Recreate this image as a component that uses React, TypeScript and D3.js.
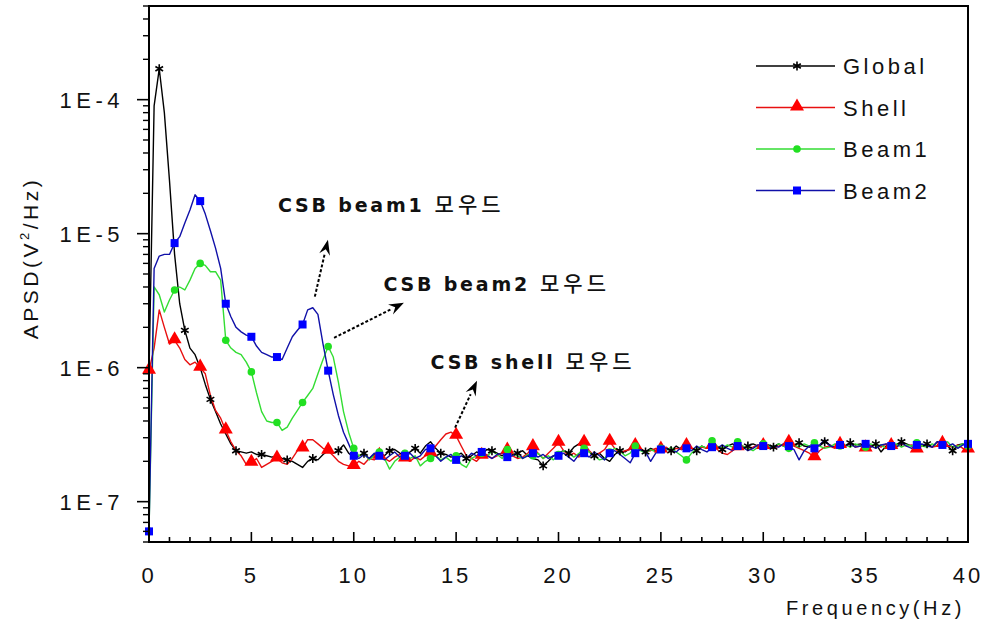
import React from "react";
import * as d3 from "d3";

// ---------- data (APSD values in units of 1E-7 V^2/Hz, sampled every 0.25 Hz) ----------
const STEP_HZ = 0.25;
const UNIT = 1e-7;

const GLOBAL = [
  9, 900, 1700, 800, 250, 70, 30, 19, 14, 12.5, 10, 7.5, 5.8, 4.7, 3.8, 3.2, 2.7, 2.4, 2.35, 2.3,
  2.35, 2.25, 2.25, 2.2, 2.15, 2.2, 2.1, 2.05, 2.0, 1.9, 1.8, 2.0, 2.1, 2.05, 2.25, 2.4, 2.3, 2.4, 2.65, 2.3,
  2.15,
  2.2, 2.3, 2.1, 2.25, 2.35, 2.2, 2.4, 2.45, 2.3, 2.2, 2.35, 2.5, 2.3, 2.6, 2.8, 2.5, 2.3, 2.25, 2.15, 2.2,
  2.3, 2.1, 2.2, 2.35, 2.25, 2.45, 2.4, 2.3, 2.2, 2.35, 2.25, 2.3, 2.4, 2.2, 2.1, 2.05, 1.85, 2.0, 2.2, 2.3,
  2.4, 2.3, 2.55, 2.7, 2.5, 2.35, 2.2, 2.3, 2.1, 2.0, 2.25, 2.4, 2.35, 2.5, 2.3, 2.45, 2.35, 2.5, 2.4, 2.55,
  2.5, 2.4, 2.6, 2.45, 2.55, 2.5, 2.4, 2.6, 2.5, 2.65, 2.55, 2.45, 2.6, 2.7, 2.55, 2.5, 2.6, 2.7, 2.6, 2.55,
  2.65, 2.55, 2.7, 2.6, 2.5, 2.65, 2.75, 2.6, 2.55, 2.7, 2.6, 2.8, 2.65, 2.55, 2.7, 2.6, 2.75, 2.65, 2.7, 2.6,
  2.55, 2.7, 2.35, 2.6, 2.75, 2.65, 2.8, 2.7, 2.6, 2.75, 2.65, 2.7, 2.55, 2.8, 2.7, 2.6, 2.4, 2.65, 2.7, 2.6,
];

const SHELL = [
  9.5, 14, 27, 20, 15, 16, 14, 11.5, 10.5, 11, 10, 9, 6.2, 4.8, 4.2, 3.4, 2.8, 2.4, 2.2, 1.9,
  1.95, 2.1, 1.8, 1.9, 2.0, 2.1, 1.95, 1.9, 2.1, 2.4, 2.5, 2.9, 2.9, 2.7, 2.5, 2.4, 2.2, 2.0, 1.9, 1.85,
  1.85,
  2.0, 1.9, 2.1, 2.05, 2.2, 2.1, 2.0, 2.15, 2.25, 2.1, 2.0, 2.15, 2.05, 2.2, 2.3, 2.6, 2.9, 3.2, 3.3, 3.1,
  2.6, 2.2, 2.1, 2.0, 2.2, 2.25, 2.1, 2.2, 2.3, 2.4, 2.2, 2.1, 2.15, 2.3, 2.55, 2.3, 2.1, 2.3, 2.5, 2.75,
  2.4, 2.2, 2.3, 2.15, 2.75, 2.4, 2.2, 2.3, 2.45, 2.8, 2.5, 2.3, 2.4, 2.45, 2.6, 2.5, 2.35, 2.4, 2.5, 2.45,
  2.55, 2.4, 2.5, 2.45, 2.6, 2.5, 2.4, 2.55, 2.5, 2.6, 2.45, 2.3, 2.25, 2.4, 2.55, 2.6, 2.5, 2.55, 2.65, 2.6,
  2.55, 2.5, 2.6, 2.7, 2.75, 2.6, 2.5, 2.4, 2.3, 2.15, 2.4, 2.55, 2.6, 2.5, 2.65, 2.6, 2.7, 2.55, 2.6, 2.5,
  2.6, 2.65, 2.55, 2.7, 2.6, 2.55, 2.7, 2.6, 2.65, 2.45, 2.6, 2.7, 2.55, 2.6, 2.7, 2.6, 2.55, 2.65, 2.5, 2.45,
];

const BEAM1 = [
  0.6, 40, 35, 26, 32, 38, 40, 38, 45, 55, 60, 58, 52, 52, 45, 16, 14, 13, 12.5, 11,
  9.3, 6.5, 4.7, 4.0, 3.9, 3.9, 3.4, 3.6, 4.2, 4.8, 5.5, 6.2, 7.0, 9.0, 11.5, 14.4, 12, 7.8, 4.7, 3.3,
  2.5,
  2.2, 2.3, 2.05, 2.2, 2.35, 2.1, 1.75, 2.0, 2.15, 2.3, 2.1, 2.2, 1.85, 2.0, 2.1, 2.2, 2.05, 2.15, 2.0, 2.2,
  1.9, 1.8, 2.1, 2.2, 2.3, 2.15, 2.4, 2.25, 2.1, 2.45, 2.3, 2.2, 2.1, 2.25, 2.2, 2.3, 2.1, 2.2, 2.05, 2.25,
  2.4, 2.3, 2.15, 2.3, 2.5, 2.35, 2.2, 2.05, 2.1, 2.35, 2.5, 2.4, 2.2, 2.3, 2.6, 2.4, 2.3, 2.45, 2.35, 2.5,
  2.4, 2.55, 2.35, 2.2, 2.05, 2.3, 2.5, 2.6, 2.5, 2.85, 2.6, 2.5, 2.65, 2.55, 2.8, 2.6, 2.5, 2.4, 2.55, 2.7,
  2.6, 2.55, 2.7, 2.6, 2.5, 2.65, 2.55, 2.7, 2.6, 2.75, 2.6, 2.5, 2.55, 2.7, 2.6, 2.65, 2.55, 2.7, 2.6, 2.55,
  2.7, 2.6, 2.65, 2.5, 2.6, 2.7, 2.55, 2.65, 2.6, 2.75, 2.6, 2.55, 2.7, 2.6, 2.65, 2.8, 2.55, 2.6, 2.7, 2.6,
];

const BEAM2 = [
  0.6, 55, 68, 70, 70, 85, 95, 120, 150, 195, 175, 140, 105, 78, 55, 30, 24, 20, 18.5, 17.5,
  17, 14.5, 13, 12.5, 12, 12, 11.5, 14, 17, 19, 21, 27, 28, 25, 15, 9.5, 6.3, 4.4, 3.3, 2.7,
  2.2,
  2.1, 2.25, 2.1, 2.3, 2.2, 2.05, 2.2, 2.35, 2.15, 2.2, 2.3, 2.1, 2.2, 2.45, 2.5, 2.2, 2.0, 2.15, 2.25, 2.05,
  2.2, 2.1, 2.3, 2.2, 2.35, 2.2, 2.1, 2.25, 2.3, 2.15, 2.2, 2.35, 2.1, 2.2, 2.3, 2.15, 2.25, 2.1, 2.2, 2.2,
  2.3, 2.15, 2.0, 2.25, 2.3, 2.15, 2.35, 2.2, 2.05, 2.3, 2.4, 2.25, 2.1, 1.95, 2.3, 2.45, 2.35, 2.0, 2.3, 2.45,
  2.5, 2.4, 2.35, 2.55, 2.5, 2.4, 2.6, 2.45, 2.35, 2.55, 2.5, 2.65, 2.5, 2.4, 2.6, 2.55, 2.4, 2.5, 2.65, 2.6,
  2.5, 2.6, 2.55, 2.7, 2.6, 2.45, 2.05, 2.4, 2.6, 2.5, 2.65, 2.9, 2.6, 2.55, 2.65, 2.6, 2.7, 2.55, 2.6, 2.7,
  2.6, 2.5, 2.65, 2.7, 2.6, 2.55, 2.75, 2.6, 2.5, 2.65, 2.7, 2.6, 2.55, 2.8, 2.65, 2.6, 2.7, 2.5, 2.65, 2.7,
];

const SERIES_NAMES = ["Global", "Shell", "Beam1", "Beam2"];
const SERIES_VALUES = [GLOBAL, SHELL, BEAM1, BEAM2];

const X_TICKS = [0, 5, 10, 15, 20, 25, 30, 35, 40];
const X_MINOR = d3.range(0, 41, 1);
const Y_TICKS = [1e-7, 1e-6, 1e-5, 1e-4];
const Y_TICK_LABELS = ["1E-7", "1E-6", "1E-5", "1E-4"];

const ANNOTATIONS = [
  { text: "CSB beam1", kr: "모우드", fx: 6.3, fy: 1.46e-5, tail: [8.1, 3.39e-6], tip: [8.74, 9.0e-6] },
  { text: "CSB beam2", kr: "모우드", fx: 11.45, fy: 3.76e-6, tail: [9.04, 1.67e-6], tip: [12.45, 3.05e-6] },
  { text: "CSB shell", kr: "모우드", fx: 13.75, fy: 9.7e-7, tail: [14.95, 3.57e-7], tip: [16.02, 8.0e-7] },
];

// ---------- styling ----------
const W = 986;
const H = 624;
const M = { left: 149, right: 968, top: 6, bottom: 542 };
const LINE_COLORS = ["#000000", "#e81010", "#33dd33", "#1010a8"];
const MARK_COLORS = ["#000000", "#ff0000", "#22e022", "#0000ff"];
const MARK_OFFSET = [2, 0, 0, 0];
const FONT = "'Liberation Sans', Arial, sans-serif";

function Marker({ kind, x, y, color }: { kind: number; x: number; y: number; color: string }) {
  if (kind === 0) {
    const p = d3.symbol(d3.symbolAsterisk, 55)();
    return <path d={p || ""} transform={`translate(${x},${y})`} fill="none" stroke={color} strokeWidth={1.6} />;
  }
  if (kind === 1) {
    const p = d3.symbol(d3.symbolTriangle, 85)();
    return <path d={p || ""} transform={`translate(${x},${y - 1})`} fill={color} />;
  }
  if (kind === 2) {
    return <circle cx={x} cy={y} r={3.8} fill={color} />;
  }
  return <rect x={x - 4} y={y - 4} width={8} height={8} fill={color} />;
}

function Arrow({ x1, y1, x2, y2 }: { x1: number; y1: number; x2: number; y2: number }) {
  const ang = Math.atan2(y2 - y1, x2 - x1);
  const len = 15;
  const wid = 5.5;
  const bx = x2 - len * Math.cos(ang);
  const by = y2 - len * Math.sin(ang);
  const px = -Math.sin(ang) * wid;
  const py = Math.cos(ang) * wid;
  const head = `M${x2},${y2}L${bx + px},${by + py}L${bx + 0.35 * len * Math.cos(ang)},${by + 0.35 * len * Math.sin(ang)}L${bx - px},${by - py}Z`;
  return (
    <g>
      <line x1={x1} y1={y1} x2={bx} y2={by} stroke="#000" strokeWidth={2} strokeDasharray="3,2" />
      <path d={head} fill="#000" />
    </g>
  );
}

export default function App() {
  const x = d3.scaleLinear().domain([0, 40]).range([M.left, M.right]);
  const y = d3.scaleLog().domain([5e-8, 5e-4]).range([M.bottom, M.top]);

  const yMinor: number[] = [];
  for (let e = -8; e <= -4; e++) {
    for (let k = 2; k <= 9; k++) {
      const v = k * Math.pow(10, e);
      if (v >= 5e-8 && v <= 5e-4) yMinor.push(v);
    }
  }

  const line = d3
    .line<number>()
    .x((_, i) => x(i * STEP_HZ))
    .y((v) => y(v * UNIT));

  return (
    <svg width={W} height={H} style={{ position: "absolute", left: 0, top: 0, background: "#fff" }} fontFamily={FONT}>
      <rect x={0} y={0} width={W} height={H} fill="#fff" />

      {/* series lines */}
      {SERIES_VALUES.map((vals, s) => (
        <path key={`l${s}`} d={line(vals) || ""} fill="none" stroke={LINE_COLORS[s]} strokeWidth={1.4} strokeLinejoin="round" />
      ))}
      {/* markers */}
      {SERIES_VALUES.map((vals, s) => (
        <g key={`m${s}`}>
          {vals.map((v, i) =>
            (i - MARK_OFFSET[s]) % 5 === 0 && i >= MARK_OFFSET[s] ? (
              <Marker key={i} kind={s} x={x(i * STEP_HZ)} y={y(v * UNIT)} color={MARK_COLORS[s]} />
            ) : null
          )}
        </g>
      ))}

      {/* frame */}
      <rect x={M.left} y={M.top} width={M.right - M.left} height={M.bottom - M.top} fill="none" stroke="#000" strokeWidth={2} />

      {/* x ticks (inward) */}
      {X_MINOR.map((t) => (
        <line key={`xm${t}`} x1={x(t)} x2={x(t)} y1={M.bottom} y2={M.bottom - (t % 5 === 0 ? 10 : 5)} stroke="#000" strokeWidth={1.6} />
      ))}
      {X_TICKS.map((t) => (
        <text key={`xl${t}`} x={x(t)} y={583} textAnchor="middle" fontSize={22} letterSpacing={3} fill="#111">
          {t}
        </text>
      ))}

      {/* y ticks (outward) */}
      {yMinor.map((v, i) => (
        <line key={`ym${i}`} x1={M.left} x2={M.left - 6} y1={y(v)} y2={y(v)} stroke="#000" strokeWidth={1.4} />
      ))}
      {Y_TICKS.map((v, i) => (
        <g key={`yt${i}`}>
          <line x1={M.left} x2={M.left - 12} y1={y(v)} y2={y(v)} stroke="#000" strokeWidth={1.6} />
          <text x={124} y={y(v) + 8} textAnchor="end" fontSize={22} letterSpacing={4.5} fill="#111">
            {Y_TICK_LABELS[i]}
          </text>
        </g>
      ))}

      {/* axis titles */}
      <text x={965} y={615} textAnchor="end" fontSize={20} letterSpacing={3.6} fill="#111">
        Frequency(Hz)
      </text>
      <text transform={`translate(38,258) rotate(-90)`} textAnchor="middle" fontSize={21} letterSpacing={3.5} fill="#111">
        APSD(V<tspan fontSize={13} dy={-9}>2</tspan>
        <tspan dy={9}>/Hz)</tspan>
      </text>

      {/* legend */}
      {SERIES_NAMES.map((n, s) => {
        const ly = 66 + s * 41.5;
        return (
          <g key={`lg${s}`}>
            <line x1={756} x2={835} y1={ly} y2={ly} stroke={LINE_COLORS[s]} strokeWidth={1.5} />
            <Marker kind={s} x={797} y={ly} color={MARK_COLORS[s]} />
            <text x={843} y={ly + 8} fontSize={22} letterSpacing={3.5} fill="#111">
              {n}
            </text>
          </g>
        );
      })}

      {/* annotations */}
      {ANNOTATIONS.map((a, i) => (
        <g key={`an${i}`}>
          <text x={x(a.fx)} y={y(a.fy)} fontSize={19} fontWeight="bold" letterSpacing={2.8} fill="#111" fontFamily="'DejaVu Sans', Verdana, sans-serif">
            {a.text}
            <tspan dx={10} fontFamily="'Noto Sans CJK KR', sans-serif" fontWeight={500} fontSize={21} letterSpacing={4}>
              {a.kr}
            </tspan>
          </text>
          <Arrow x1={x(a.tail[0])} y1={y(a.tail[1])} x2={x(a.tip[0])} y2={y(a.tip[1])} />
        </g>
      ))}
    </svg>
  );
}
